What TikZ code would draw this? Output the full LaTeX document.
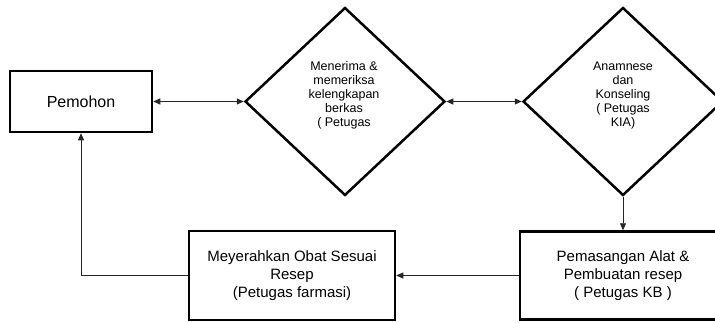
\documentclass[tikz,border=0pt]{standalone}
\usepackage{fontspec}
\setmainfont{Liberation Sans}
\usetikzlibrary{shapes.geometric,arrows.meta}
\begin{document}
\begin{tikzpicture}[x=1pt,y=-1pt,
  boxnode/.style={draw=black,line width=2.5pt,rectangle,inner sep=0pt,align=center},
  dianode/.style={draw=black,line width=2.5pt,diamond,inner sep=0pt,minimum width=200pt,minimum height=188pt},
  dtext/.style={align=center,font=\fontsize{12.5}{14}\selectfont,inner sep=0pt},
  conn/.style={line width=0.8pt,draw=black!85},
  tip/.style={-{Triangle[length=7pt,width=6pt]}},
  tips/.style={{Triangle[length=7pt,width=6pt]}-{Triangle[length=7pt,width=6pt]}}
]
\useasboundingbox[fill=white] (0,0) rectangle (715,322);
\node[boxnode,minimum width=142pt,minimum height=61pt,font=\fontsize{16}{19}\selectfont] (P) at (81,101.5) {Pemohon};
\node[dianode] (D1) at (345,101.5) {};
\node[dtext] (T1) at (344,95) {Menerima \&\\memeriksa\\kelengkapan\\berkas\\( Petugas};
\node[dianode] (D2) at (623,101.5) {};
\node[dtext] (T2) at (623,95) {Anamnese\\dan\\Konseling\\( Petugas\\KIA)};
\node[boxnode,minimum width=206pt,minimum height=88pt,font=\fontsize{15}{18}\selectfont] (B3) at (623,275.5) {Pemasangan Alat \&\\Pembuatan resep\\( Petugas KB )};
\node[boxnode,minimum width=206pt,minimum height=89pt,font=\fontsize{15}{18}\selectfont] (B2) at (292,275.5) {Meyerahkan Obat Sesuai\\Resep\\(Petugas farmasi)};
\draw[conn,tips] (P.east) -- (D1.west);
\draw[conn,tips] (D1.east) -- (D2.west);
\draw[conn,tip] (D2.south) -- (B3.north);
\draw[conn,tip] (B3.west) -- (B2.east);
\draw[conn,tip] (B2.west) -| (P.south);
\end{tikzpicture}
\end{document}
